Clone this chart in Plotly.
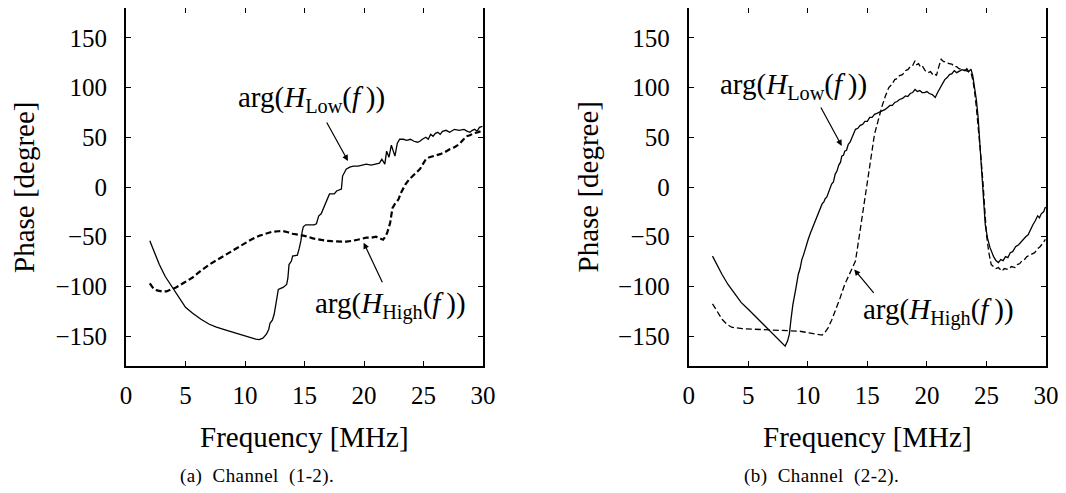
import plotly.graph_objects as go

# ---------------- data (frequency MHz, phase degree) ----------------
ticks_x = [0, 5, 10, 15, 20, 25, 30]
ticks_y = [-150, -100, -50, 0, 50, 100, 150]

low_a = [(2.0,-54),(2.4,-66),(2.8,-78),(3.3,-90),(3.9,-101),(4.5,-112),(5.0,-121),(5.6,-127),
         (6.3,-133),(7.0,-138),(7.6,-141),(8.4,-144),(9.2,-147),(10.1,-150),(10.6,-152),(10.9,-153),
         (11.2,-153.5),(11.5,-152),(11.8,-148),(12.0,-143),(12.1,-137),(12.3,-134),(12.45,-128),
         (12.6,-115),(12.8,-103),(13.0,-102),(13.2,-101),(13.5,-98),(13.6,-92),(13.7,-78),(13.9,-74.5),
         (14.0,-69.5),(14.2,-69),(14.4,-68.5),(14.55,-62),(14.7,-54),(14.8,-45),(14.9,-40),(15.1,-38),
         (15.5,-38),(15.8,-38),(16.0,-37),(16.2,-29),(16.4,-27),(16.5,-24),(16.7,-20),(16.8,-16),
         (17.0,-11),(17.1,-7),(17.3,-7),(17.5,-7),(17.7,-4),(17.9,-3),(18.1,-2),(18.2,11),(18.35,15),
         (18.5,18),(18.8,20),(19.1,21),(19.5,21),(19.8,22),(20.2,23),(20.6,22),(21.0,23),(21.3,24),
         (21.5,28),(21.6,26),(21.75,23),(21.9,36),(22.1,30),(22.3,42),(22.45,35),(22.6,31),(22.8,44),
         (23.0,48),(23.3,48),(23.6,47),(23.9,48),(24.2,46),(24.5,45),(24.7,46),(24.9,48),(25.2,50),
         (25.4,48),(25.6,53),(25.8,51),(26.0,54),(26.2,55),(26.4,53),(26.6,56),(26.9,57),(27.2,55),
         (27.6,58),(28.0,57),(28.4,58),(28.7,56),(28.9,55),(29.1,57),(29.3,58),(29.5,56),(29.7,60),
         (29.95,61)]

high_a = [(2.0,-97),(2.3,-102),(2.6,-104),(3.0,-105),(3.4,-105),(3.8,-103),(4.2,-101),(4.9,-96),
          (5.6,-91),(6.3,-84),(7.0,-78),(7.7,-73),(8.4,-68),(9.1,-63),(9.8,-58),(10.5,-53),(11.2,-49),
          (11.8,-46.5),(12.3,-45),(12.8,-44.5),(13.2,-44.3),(13.6,-45.5),(14.0,-47),(14.5,-48),
          (14.9,-48.7),(15.3,-50),(15.7,-51.7),(16.2,-53),(16.8,-54),(17.3,-54.5),(17.9,-55),
          (18.5,-55),(19.1,-54),(19.6,-52.5),(20.2,-51),(20.6,-51),(21.0,-50),(21.3,-51.5),(21.6,-53),
          (21.8,-50),(21.95,-46),(22.1,-40),(22.2,-36),(22.3,-28),(22.4,-21),(22.6,-17),(22.9,-12.4),
          (23.1,-6),(23.3,-1),(23.5,3),(23.8,7.7),(24.2,12),(24.5,16),(24.7,18),(24.9,22),(25.2,28),
          (25.5,30),(25.9,31),(26.4,33),(26.8,35),(27.2,38),(27.6,40),(28.0,43),(28.3,47),(28.6,51),
          (28.9,52),(29.2,54),(29.6,55),(29.95,57)]

low_b = [(2.0,-69.5),(2.4,-79),(2.8,-88),(3.3,-98),(3.9,-108),(4.4,-116),(5.0,-123),(5.5,-129),
         (6.1,-136.5),(6.7,-143),(7.3,-150),(7.7,-155),(8.1,-160),(8.3,-155),(8.45,-148),(8.6,-132),
         (8.75,-118),(9.0,-102),(9.2,-88),(9.35,-82),(9.5,-73),(9.65,-68),(9.8,-61),(10.05,-52),
         (10.2,-47),(10.3,-44),(10.4,-42),(10.5,-38),(10.6,-36),(10.75,-31),(10.9,-28),(11.0,-24),
         (11.1,-22),(11.2,-17),(11.35,-15),(11.45,-12),(11.6,-10),(11.7,-7),(11.85,-2),(12.0,3),
         (12.15,5),(12.3,13),(12.45,16),(12.6,22),(12.75,25),(12.85,31),(13.0,32),(13.1,36),(13.25,37),
         (13.4,43),(13.55,45),(13.7,50),(13.85,53),(14.0,58),(14.2,59),(14.4,62),(14.6,63),(14.8,66),
         (15.0,66),(15.2,70),(15.4,70),(15.6,73),(15.8,74),(16.0,75),(16.25,76),(16.5,78),(16.7,80),
         (16.9,82),(17.1,82),(17.3,85),(17.5,86),(17.7,88),(17.95,89),(18.2,91.6),(18.4,91),(18.6,94),
         (18.8,95),(19.0,98),(19.2,96),(19.4,97),(19.6,95),(19.8,95),(20.0,96),(20.2,94),(20.45,93),
         (20.7,90),(20.9,95),(21.1,99),(21.3,104),(21.5,108),(21.7,110),(21.9,113),(22.1,114),
         (22.3,117),(22.5,115),(22.7,116),(22.95,118),(23.2,117),(23.35,119),(23.5,116),(23.7,118.5),
         (23.85,112),(24.0,100),(24.15,88),(24.3,70),(24.45,40),(24.6,13),(24.75,-15),(24.9,-38),
         (25.1,-52),(25.3,-61),(25.6,-70),(25.8,-74),(26.0,-76),(26.2,-73),(26.4,-74),(26.6,-70),
         (26.8,-71),(27.0,-66),(27.2,-65),(27.45,-60),(27.7,-58),(27.9,-55),(28.1,-52),(28.3,-50),
         (28.5,-48),(28.7,-42),(28.9,-38),(29.1,-34),(29.3,-29),(29.45,-31),(29.6,-27),(29.8,-25),
         (29.95,-20)]

high_b = [(2.0,-117.5),(2.4,-126),(2.8,-133),(3.2,-138),(3.6,-141),(4.5,-142.5),(5.6,-143),
          (7.0,-143.5),(8.4,-144.3),(9.3,-145),(10.1,-146.6),(10.7,-148),(11.2,-149),(11.45,-146),
          (11.7,-141.6),(12.0,-134),(12.3,-125),(12.7,-112),(13.1,-98),(13.5,-87),(14.0,-74.5),
          (14.25,-55),(14.5,-34),(14.8,-10),(15.1,12.8),(15.35,33),(15.6,53),(15.9,68),(16.2,80),
          (16.5,91),(16.8,100),(17.05,103),(17.3,108),(17.5,109),(17.7,112),(17.95,113),(18.2,117),
          (18.4,118),(18.6,121),(18.8,122),(19.0,127),(19.15,123),(19.3,124),(19.45,121),(19.6,122),
          (19.85,117),(20.1,115),(20.3,116),(20.5,113),(20.65,114),(20.8,112),(21.0,121),(21.2,128.5),
          (21.4,126),(21.6,126),(21.85,124),(22.1,123.5),(22.3,121),(22.5,121),(22.7,119),(22.9,118.5),
          (23.1,118),(23.3,117),(23.5,116),(23.7,115),(23.85,108),(24.0,96.6),(24.15,80),(24.3,63),
          (24.5,35),(24.7,6),(24.85,-22),(25.0,-47.7),(25.2,-66),(25.4,-78),(25.6,-80),(25.8,-82),
          (26.0,-81),(26.3,-84.6),(26.5,-82),(26.8,-83),(27.1,-80),(27.4,-81),(27.6,-78),(27.8,-77),
          (28.0,-74),(28.2,-72.8),(28.4,-70),(28.6,-69),(28.8,-68),(29.05,-66),(29.3,-62),(29.5,-60),
          (29.7,-57),(29.95,-52.7)]

captions = ["(a)&nbsp;&nbsp;Channel&nbsp;&nbsp;(1-2).", "(b)&nbsp;&nbsp;Channel&nbsp;&nbsp;(2-2)."]
lbl_low = "arg(<i>H</i><sub>Low</sub>(<i>f</i>&#8201;))"
lbl_high = "arg(<i>H</i><sub>High</sub>(<i>f</i>&#8201;))"

FONT = "serif"

# page body has an 8 px margin: figure occupies page pixels 8..1066 x 8..493
OFF = 8
W, H = 1058, 485

def px_x(p):
    return (p - OFF) / W

def px_y(p):
    return 1 - (p - OFF) / H

def xs(p):
    return [a for a, _ in p]

def ys(p):
    return [b for _, b in p]

fig = go.Figure()
fig.add_trace(go.Scatter(x=xs(low_a), y=ys(low_a), mode="lines",
                         line=dict(color="black", width=1.3), xaxis="x", yaxis="y", showlegend=False))
fig.add_trace(go.Scatter(x=xs(high_a), y=ys(high_a), mode="lines",
                         line=dict(color="black", width=2.2, dash="6px,3px"), xaxis="x", yaxis="y", showlegend=False))
fig.add_trace(go.Scatter(x=xs(low_b), y=ys(low_b), mode="lines",
                         line=dict(color="black", width=1.3), xaxis="x2", yaxis="y2", showlegend=False))
fig.add_trace(go.Scatter(x=xs(high_b), y=ys(high_b), mode="lines",
                         line=dict(color="black", width=1.3, dash="6px,3px"), xaxis="x2", yaxis="y2", showlegend=False))

ax_common = dict(showline=True, linecolor="black", linewidth=2, mirror="ticks", ticks="inside",
                 ticklen=5, tickwidth=1.2, tickcolor="black", showgrid=False, zeroline=False,
                 automargin=False, ticklabeloverflow="allow",
                 tickfont=dict(family=FONT, size=25, color="black"))

dom_a = [px_x(126), px_x(483)]
dom_b = [px_x(688.7), px_x(1046)]
dom_y = [px_y(366), px_y(8)]

fig.update_layout(
    width=W, height=H, margin=dict(l=0, r=0, t=0, b=0, autoexpand=False),
    font=dict(family=FONT, color="black"),
    plot_bgcolor="white", paper_bgcolor="white",
    xaxis=dict(domain=dom_a, range=[0, 30], tickvals=ticks_x, anchor="y", ticklabelstandoff=6, **ax_common),
    yaxis=dict(domain=dom_y, range=[-180, 180], tickvals=ticks_y, anchor="x", ticklabelstandoff=12, **ax_common),
    xaxis2=dict(domain=dom_b, range=[0, 30], tickvals=ticks_x, anchor="y2", ticklabelstandoff=6, **ax_common),
    yaxis2=dict(domain=dom_y, range=[-180, 180], tickvals=ticks_y, anchor="x2", ticklabelstandoff=12, **ax_common),
)

ann = []
tf = dict(family=FONT, size=29, color="black")
# axis titles
for cx, px in [((dom_a[0]+dom_a[1])/2, px_x(24)), ((dom_b[0]+dom_b[1])/2, px_x(587.5))]:
    ann.append(dict(text="Frequency [MHz]", x=cx, y=px_y(437), xref="paper", yref="paper",
                    showarrow=False, font=tf, xanchor="center", yanchor="middle"))
    ann.append(dict(text="Phase [degree]", x=px, y=px_y(187), xref="paper", yref="paper",
                    showarrow=False, font=tf, textangle=-90, xanchor="center", yanchor="middle"))
# captions
for cap, cx in zip(captions, [px_x(256.5), px_x(821)]):
    ann.append(dict(text='<span style="letter-spacing:0.4px">' + cap + '</span>', x=cx, y=px_y(476),
                    xref="paper", yref="paper", showarrow=False,
                    font=dict(family=FONT, size=19, color="black"), xanchor="center", yanchor="middle"))
# curve labels
for txt, x, y, xr, yr in [(lbl_low, 15.6, 88, "x", "y"), (lbl_high, 22.2, -119, "x", "y"),
                          (lbl_low, 8.8, 102, "x2", "y2"), (lbl_high, 20.95, -125.5, "x2", "y2")]:
    ann.append(dict(text=txt, x=x, y=y, xref=xr, yref=yr, showarrow=False, font=tf,
                    xanchor="center", yanchor="middle"))
# arrows (head, tail)
for hx, hy, tx, ty, xr, yr in [(18.65, 26.2, 16.8, 66.4, "x", "y"), (19.97, -56, 21.6, -97.3, "x", "y"),
                               (12.85, 41.3, 11.03, 81.5, "x2", "y2"), (13.9, -82.9, 15.64, -108, "x2", "y2")]:
    ann.append(dict(text="", x=hx, y=hy, ax=tx, ay=ty, xref=xr, yref=yr, axref=xr, ayref=yr,
                    showarrow=True, arrowhead=2, arrowsize=1, arrowwidth=1.2, arrowcolor="black"))
fig.update_layout(annotations=ann)

fig.write_html("out.html")
